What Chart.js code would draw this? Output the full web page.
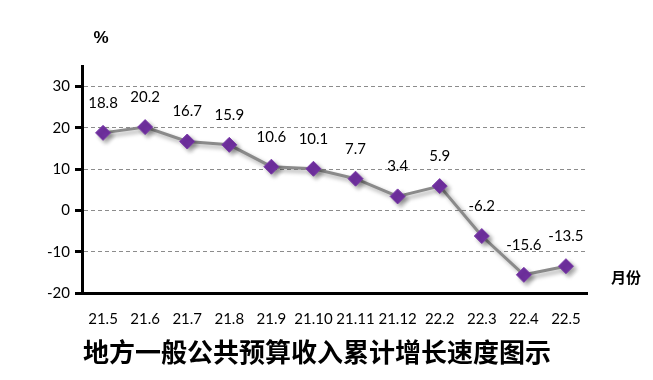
<!DOCTYPE html>
<html><head><meta charset="utf-8">
<script src="https://cdn.jsdelivr.net/npm/chart.js@4"></script>
<style>html,body{margin:0;padding:0;background:#fff;}#wrap{position:relative;width:653px;height:380px;}</style>
</head><body>
<div id="wrap"><canvas id="c" width="653" height="380"></canvas></div>
<script>
const categories = ['21.5','21.6','21.7','21.8','21.9','21.10','21.11','21.12','22.2','22.3','22.4','22.5'];
const growth = [18.8, 20.2, 16.7, 15.9, 10.6, 10.1, 7.7, 3.4, 5.9, -6.2, -15.6, -13.5];
const yTicks = [-20, -10, 0, 10, 20, 30];
const chartTitle = '地方一般公共预算收入累计增长速度图示';
const unitLabel = '%';
const xUnitLabel = '月份';

const labelFont = '15px Lato, "Liberation Sans", sans-serif';

const shadowPlugin = {
  id: 'shadow',
  beforeDatasetsDraw(chart) {
    const ctx = chart.ctx; ctx.save();
    ctx.shadowColor = 'rgba(0,0,0,0.35)'; ctx.shadowBlur = 4; ctx.shadowOffsetX = 3; ctx.shadowOffsetY = 3;
  },
  afterDatasetsDraw(chart) { chart.ctx.restore(); }
};

const extraText = {
  id: 'extraText',
  afterDraw(chart) {
    const ctx = chart.ctx; ctx.save();
    const meta = chart.getDatasetMeta(0);
    ctx.fillStyle = '#000'; ctx.font = labelFont; ctx.textAlign = 'center'; ctx.textBaseline = 'middle';
    meta.data.forEach((p, i) => { ctx.fillText(String(growth[i]), p.x, p.y - 30); });
    ctx.font = 'bold 17px "Liberation Sans", Arial, sans-serif';
    ctx.fillText(unitLabel, 101, 38);
    ctx.font = 'bold 15px "Noto Sans CJK SC", sans-serif';
    ctx.fillText(xUnitLabel, 626, 277);
    ctx.font = 'bold 26px "Noto Sans CJK SC", sans-serif';
    ctx.fillText(chartTitle, 317, 352);
    ctx.restore();
  }
};

new Chart(document.getElementById('c'), {
  type: 'line',
  data: { labels: categories, datasets: [{
    data: growth, borderColor: '#8a8a8a', borderWidth: 3, tension: 0,
    pointStyle: 'rectRot', pointRadius: 7.5, pointBackgroundColor: '#7030A0', pointBorderColor: '#7a3aa8', pointBorderWidth: 1
  }]},
  options: {
    responsive: false, animation: false, devicePixelRatio: 1,
    layout: { padding: { left: 0, right: 66, top: 66, bottom: 0 } },
    plugins: { legend: { display: false }, tooltip: { enabled: false } },
    scales: {
      x: {
        offset: true,
        afterFit(s) { s.height = 87; },
        grid: { display: false, drawTicks: false },
        border: { display: true, color: '#000', width: 3 },
        ticks: { color: '#000', font: { family: 'Lato, "Liberation Sans", sans-serif', size: 15 }, padding: 17, maxRotation: 0, autoSkip: false }
      },
      y: {
        min: -20, max: 35,
        afterFit(s) { s.width = 82; },
        afterBuildTicks(s) { s.ticks = yTicks.concat([35]).map(v => ({ value: v })); },
        border: { display: true, color: '#000', width: 3, dash: [4, 3] },
        grid: {
          color: c => (c.tick && (c.tick.value === 35 || c.tick.value === -20)) ? 'rgba(0,0,0,0)' : '#8c8c8c',
          lineWidth: 1,
          tickColor: c => (c.tick && c.tick.value === 35) ? 'rgba(0,0,0,0)' : '#000',
          tickWidth: 3, tickLength: 7, tickBorderDash: []
        },
        ticks: { color: '#000', font: { family: 'Lato, "Liberation Sans", sans-serif', size: 15 }, padding: 5,
          callback: v => yTicks.includes(v) ? String(v) : '' }
      }
    }
  },
  plugins: [shadowPlugin, extraText]
});
</script>
</body></html>
